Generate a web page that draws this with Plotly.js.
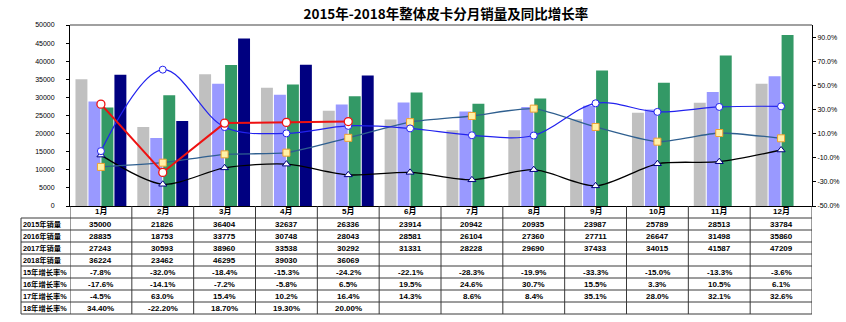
<!DOCTYPE html>
<html><head><meta charset="utf-8">
<script src="https://cdn.plot.ly/plotly-3.0.1.min.js"></script>
<style>html,body{margin:0;padding:0;background:#fff}#chart{width:846px;height:322px}</style>
</head><body><div id="chart"></div>
<script>
const months = ['1月','2月','3月','4月','5月','6月','7月','8月','9月','10月','11月','12月'];
const sales2015 = [35000,21826,36404,32637,26336,23914,20942,20935,23987,25789,28513,33784];
const sales2016 = [28835,18753,33775,30748,28043,28581,26104,27360,27711,26647,31498,35860];
const sales2017 = [27243,30593,38960,33538,30292,31331,28228,29690,37433,34015,41587,47209];
const sales2018 = [36224,23462,46295,39030,36069,null,null,null,null,null,null,null];
const growth15 = [-7.8,-32.0,-18.4,-15.3,-24.2,-22.1,-28.3,-19.9,-33.3,-15.0,-13.3,-3.6];
const growth16 = [-17.6,-14.1,-7.2,-5.8,6.5,19.5,24.6,30.7,15.5,3.3,10.5,6.1];
const growth17 = [-4.5,63.0,15.4,10.2,16.4,14.3,8.6,8.4,35.1,28.0,32.1,32.6];
const growth18 = [34.40,-22.20,18.70,19.30,20.00,null,null,null,null,null,null,null];
const rowLabels = ['2015年销量','2016年销量','2017年销量','2018年销量','15年增长率%','16年增长率%','17年增长率%','18年增长率%'];
const leftTicks = [0,5000,10000,15000,20000,25000,30000,35000,40000,45000,50000];
const rightTicks = [-50,-30,-10,10,30,50,70,90];

const W = 846, H = 322, L = 70, R = 812, T = 25, B = 206;
const px2x = p => (p - L) / (R - L);
const py2y = p => (B - p) / (B - T);

const bar = (name, y, color) => ({type:'bar', name, x: months, y, marker:{color, line:{width:0}}, hoverinfo:'y'});
const traces = [
  bar('2015年销量', sales2015, '#C0C0C0'),
  bar('2016年销量', sales2016, '#9999FF'),
  bar('2017年销量', sales2017, '#339966'),
  bar('2018年销量', sales2018, '#000080'),
  {type:'scatter', mode:'lines+markers', name:'15年增长率%', x:months, y:growth15, yaxis:'y2',
   line:{color:'#000000', width:1.3, shape:'spline', smoothing:0.8},
   marker:{symbol:'triangle-up', size:7, color:'#FFFFFF', line:{color:'#000080', width:1}}},
  {type:'scatter', mode:'lines+markers', name:'16年增长率%', x:months, y:growth16, yaxis:'y2',
   line:{color:'#2F5F8F', width:1.3, shape:'spline', smoothing:0.6},
   marker:{symbol:'square', size:7, color:'#FFF2A8', line:{color:'#F0A030', width:1}}},
  {type:'scatter', mode:'lines+markers', name:'17年增长率%', x:months, y:growth17, yaxis:'y2',
   line:{color:'#2222EE', width:1.2, shape:'spline', smoothing:1},
   marker:{symbol:'circle', size:7, color:'#FFFFFF', line:{color:'#2222EE', width:1}}},
  {type:'scatter', mode:'lines+markers', name:'18年增长率%', x:months, y:growth18, yaxis:'y2',
   line:{color:'#EE1111', width:2}, connectgaps:false,
   marker:{symbol:'circle', size:8, color:'#FFFFFF', line:{color:'#EE1111', width:1.3}}}
];

const shapes = [];
const annotations = [];
const lineColor = '#3A3A3A';
shapes.push({type:'line', xref:'paper', yref:'paper', x0:0, x1:1, y0:1, y1:1, line:{color:'#A0A0A0', width:2}});
for (let k = 0; k <= 8; k++) {
  const py = 218 + 12 * k;
  shapes.push({type:'line', xref:'paper', yref:'paper', x0:px2x(21), x1:1, y0:py2y(py), y1:py2y(py), line:{color:lineColor, width:1}});
}
shapes.push({type:'line', xref:'paper', yref:'paper', x0:px2x(21), x1:px2x(21), y0:py2y(218), y1:py2y(314), line:{color:lineColor, width:1}});
for (let i = 0; i <= months.length; i++) {
  shapes.push({type:'line', xref:'x', yref:'paper', x0:i-0.5, x1:i-0.5, y0:py2y(206), y1:py2y(314), line:{color:lineColor, width:1}});
}
const cellFont = {family:'Liberation Sans, Arial, Noto Sans CJK SC', size:8, color:'#000'};
const labelFont = {family:'Liberation Sans, Arial, Noto Sans CJK SC', size:7.3, color:'#000'};
months.forEach((m, i) => annotations.push({xref:'x', yref:'paper', x:i, y:py2y(212), text:'<b>'+m+'</b>', showarrow:false, font:cellFont, yanchor:'middle'}));
rowLabels.forEach((lab, r) => annotations.push({xref:'paper', yref:'paper', x:px2x(21.5), xanchor:'left', y:py2y(224 + 12*r), text:'<b>'+lab+'</b>', showarrow:false, font:labelFont, yanchor:'middle', borderpad:0}));
const rows = [
  sales2015.map(v => v == null ? '' : String(v)),
  sales2016.map(v => v == null ? '' : String(v)),
  sales2017.map(v => v == null ? '' : String(v)),
  sales2018.map(v => v == null ? '' : String(v)),
  growth15.map(v => v == null ? '' : v.toFixed(1) + '%'),
  growth16.map(v => v == null ? '' : v.toFixed(1) + '%'),
  growth17.map(v => v == null ? '' : v.toFixed(1) + '%'),
  growth18.map(v => v == null ? '' : v.toFixed(2) + '%')
];
rows.forEach((row, r) => row.forEach((t, i) => {
  if (t) annotations.push({xref:'x', yref:'paper', x:i, y:py2y(224 + 12*r), text:'<b>'+t+'</b>', showarrow:false, font:cellFont, yanchor:'middle'});
}));

const layout = {
  width: W, height: H,
  margin: {l:L, r:W-R, t:T, b:H-B, pad:0},
  paper_bgcolor:'#FFFFFF', plot_bgcolor:'#FFFFFF',
  showlegend:false,
  barmode:'group', bargap:0.16, bargroupgap:0.08,
  title:{text:'<b>2015年-2018年整体皮卡分月销量及同比增长率</b>', x:0.527, xanchor:'center', y:1-14/H, yanchor:'middle', yref:'container',
         font:{family:'Noto Sans CJK SC, sans-serif', size:13.5, color:'#000'}},
  xaxis:{type:'category', showticklabels:false, showline:true, linecolor:'#000', linewidth:1, ticks:'', showgrid:false, zeroline:false, range:[-0.5, 11.5], fixedrange:true},
  yaxis:{range:[0,50000], tickvals:leftTicks, ticktext:leftTicks.map(String), showline:true, linecolor:'#000', linewidth:1,
         ticks:'outside', ticklen:3, tickcolor:'#000', showgrid:false, zeroline:false, ticklabelstandoff:10,
         tickfont:{family:'Liberation Sans, Arial', size:7, color:'#000'}},
  yaxis2:{overlaying:'y', side:'right', range:[-50,100], tickvals:rightTicks, ticktext:rightTicks.map(v => v.toFixed(1) + '%'),
          showline:true, linecolor:'#000', linewidth:1, ticks:'outside', ticklen:3, tickcolor:'#000', showgrid:false, zeroline:false,
          tickfont:{family:'Liberation Sans, Arial', size:7, color:'#000'}},
  shapes, annotations
};
Plotly.newPlot('chart', traces, layout, {displayModeBar:false, staticPlot:true});
</script>
</body></html>
